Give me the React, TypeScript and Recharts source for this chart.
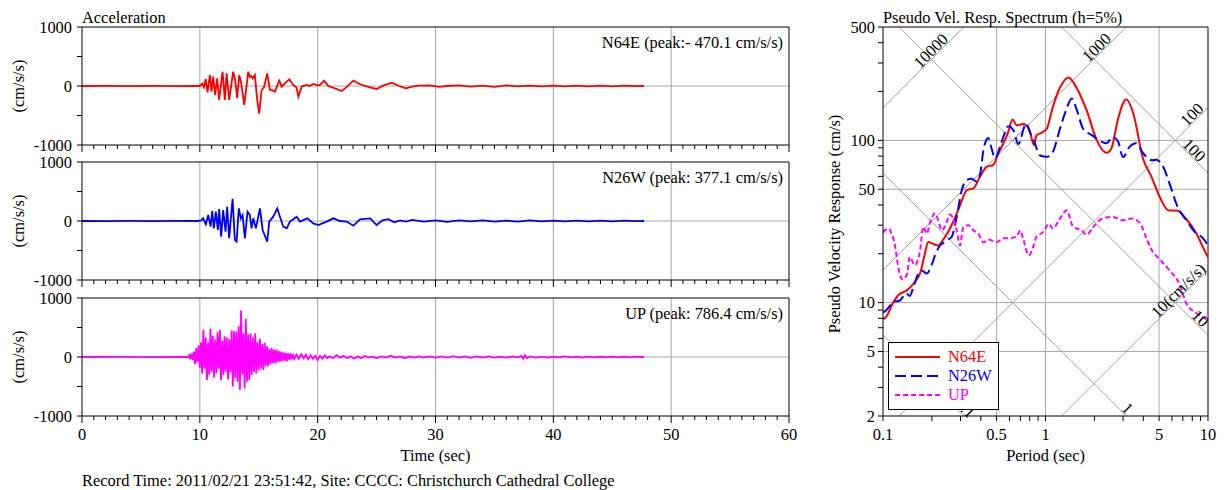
import { LineChart, Line, XAxis, YAxis, ReferenceLine, ReferenceDot } from "recharts";

const FONT = "'Liberation Serif', 'Times New Roman', serif";
const W = 1226;
const H = 490;

// accelerograms, [time (s), acceleration (cm/s/s)]
const n64eAcc: [number, number][] = [
  [0, 0], [2, 2], [4, -2], [6, 2], [8, -2], [9.6, 0], [10.0, 0], [10.2, 40], [10.35, -20],
  [10.5, 120], [10.65, -110], [10.85, 186], [10.99, -96], [11.13, 158], [11.3, -152],
  [11.47, 130], [11.64, -236], [11.93, 242], [12.12, -236], [12.27, 214], [12.49, -236],
  [12.83, 242], [13.0, 100], [13.17, -208], [13.34, 186], [13.5, 60], [13.77, -321],
  [14.11, 242], [14.25, 150], [14.39, 170], [14.5, 130], [14.67, 186], [14.87, -236],
  [15.04, -470], [15.24, -68], [15.45, -20], [15.72, 214], [15.95, -68], [16.15, -70],
  [16.37, -96], [16.74, 90], [16.94, -10], [17.22, 45], [17.59, 113], [17.93, 17],
  [18.2, -20], [18.36, -180], [18.64, -10], [19.07, 17], [19.3, 0], [19.63, 34], [20.0, 10],
  [20.2, 20], [20.54, 90], [20.9, 0], [21.47, -40], [22.04, -85], [22.5, -10], [23.03, 90],
  [23.6, 30], [24.2, -10], [25.0, -50], [25.6, 10], [26.3, 56], [26.9, 0], [27.5, -40],
  [28.0, -10], [28.6, 5], [29.5, 10], [30.3, -15], [31, 0], [32, 10], [33, -10], [34, 5],
  [35, -15], [36, 10], [37, -5], [38, 5], [39, -5], [40, 5], [41, -5], [42, 5], [43, -5],
  [44, 5], [45, -5], [46, 5], [47, -3], [47.7, 0],
];

const n26wAcc: [number, number][] = [
  [0, 0], [2, -2], [4, 2], [6, -2], [8, 2], [9.8, 0], [10.1, 10], [10.28, 45], [10.51, -56],
  [10.71, 101], [10.91, -96], [11.05, 169], [11.19, -124], [11.36, 158], [11.53, -152],
  [11.64, 203], [11.81, -265], [11.98, 186], [12.18, -180], [12.32, 242], [12.49, -293],
  [12.78, 377], [12.97, -321], [13.12, -349], [13.31, 214], [13.48, 45], [13.63, 101],
  [13.82, -293], [14.05, 158], [14.25, 101], [14.39, -124], [14.53, 45], [14.76, -124],
  [15.1, 214], [15.33, -152], [15.72, -350], [15.89, -10], [16.23, 73], [16.57, 214],
  [16.8, 73], [17.08, -96], [17.37, -124], [17.65, -10], [18.22, 73], [18.5, -10],
  [19.12, 45], [19.63, -40], [20.06, -68], [20.76, -10], [21.33, 45], [21.9, 0],
  [22.46, -10], [23.03, -79], [23.6, 28], [24.45, 45], [25.0, -68], [25.5, 10], [26, 30],
  [26.5, -20], [27, 10], [27.5, -10], [28, 20], [29, -10], [30, 10], [31, -15], [32, 10],
  [33, -5], [34, 10], [35, -10], [36, 5], [37, -10], [38, 10], [39, -5], [40, 5], [41, -5],
  [42, 5], [43, -5], [44, 5], [45, -5], [46, 5], [47, -3], [47.7, 0],
];

const upAcc: [number, number][] = [
  [0, 0], [3, 3], [6, -3], [8.9, 0], [9.0, 0], [9.1, 30], [9.2, -40], [9.3, 60], [9.4, -50],
  [9.5, 90], [9.6, -120], [9.7, 150], [9.8, -90], [9.9, 200], [10.0, -180], [10.1, 250],
  [10.2, -280], [10.3, 460], [10.4, -200], [10.5, 330], [10.6, -390], [10.7, 250],
  [10.8, -300], [10.9, 480], [11.0, -250], [11.1, 360], [11.2, -350], [11.3, 300],
  [11.4, -280], [11.5, 420], [11.6, -200], [11.7, 460], [11.8, -390], [11.9, 280],
  [12.0, -300], [12.1, 350], [12.2, -250], [12.3, 330], [12.4, -380], [12.5, 300],
  [12.6, -260], [12.7, 450], [12.8, -500], [12.9, 440], [13.0, -350], [13.1, 430],
  [13.2, -420], [13.3, 520], [13.4, -560], [13.5, 786], [13.6, -300], [13.7, 400],
  [13.8, -530], [13.9, 650], [14.0, -420], [14.1, 380], [14.2, -390], [14.3, 400],
  [14.4, -300], [14.5, 330], [14.6, -260], [14.7, 400], [14.8, -280], [14.9, 250],
  [15.0, -220], [15.1, 310], [15.2, -200], [15.3, 220], [15.4, -220], [15.5, 240],
  [15.6, -150], [15.7, 180], [15.8, -160], [15.9, 140], [16.0, -120], [16.1, 150],
  [16.2, -100], [16.3, 120], [16.4, -110], [16.5, 130], [16.6, -90], [16.7, 100],
  [16.8, -80], [16.9, 90], [17.0, -70], [17.1, 80], [17.2, -60], [17.3, 70], [17.4, -70],
  [17.5, 60], [17.6, -50], [17.7, 60], [17.8, -40], [17.9, 50], [18.0, -30], [18.2, 40],
  [18.4, -30], [18.6, 50], [18.8, -20], [19.0, 40], [19.2, -40], [19.4, 30], [19.6, -30],
  [19.8, 20], [20.0, -50], [20.2, 20], [20.4, -30], [20.6, 30], [20.8, -20], [21.0, 10],
  [21.3, -20], [21.6, 30], [21.9, -10], [22.2, 20], [22.5, -20], [22.8, 10], [23.1, -30],
  [23.4, 10], [23.7, -20], [24.0, 20], [24.3, -10], [24.6, 10], [25.0, -20], [25.4, 10],
  [25.8, -10], [26.2, 20], [26.6, -10], [27.0, 10], [27.4, -20], [27.8, 10], [28.2, -10],
  [28.6, 10], [29.0, -10], [29.5, 10], [30, -10], [30.5, 10], [31, -10], [31.5, 15],
  [32, -10], [32.5, 10], [33, -15], [33.5, 10], [34, -10], [34.5, 10], [35, -10], [35.5, 5],
  [36, -10], [36.5, 10], [37, -5], [37.3, 20], [37.45, -30], [37.6, 30], [37.75, -20],
  [38, 10], [38.5, -10], [39, 5], [39.5, -10], [40, 5], [40.5, -5], [41, 10], [41.5, -5],
  [42, 5], [42.5, -10], [43, 5], [43.5, -5], [44, 5], [44.5, -5], [45, 5], [45.5, -5],
  [46, 5], [46.5, -5], [47, 5], [47.7, 0],
];

const timeTicks = [0, 1, 2, 3, 4, 5, 6, 7, 8, 9, 10, 11, 12, 13, 14, 15, 16, 17, 18, 19, 20, 21, 22, 23, 24, 25, 26, 27, 28, 29, 30, 31, 32, 33, 34, 35, 36, 37, 38, 39, 40, 41, 42, 43, 44, 45, 46, 47, 48, 49, 50, 51, 52, 53, 54, 55, 56, 57, 58, 59, 60];
const timeLabels = [0, 10, 20, 30, 40, 50, 60];
const timeGrid = [10, 20, 30, 40, 50];
const accTicks = [-1000, -500, 0, 500, 1000];
const accLabels = [-1000, 0, 1000];

// pseudo velocity response spectra (h=5%), period (s) vs SV (cm/s)
const n64ePeriod = [0.1, 0.105, 0.113, 0.124, 0.14, 0.157, 0.17, 0.18, 0.19, 0.204, 0.219, 0.235, 0.252, 0.27, 0.298, 0.328, 0.36, 0.395, 0.434, 0.477, 0.512, 0.55, 0.59, 0.627, 0.664, 0.73, 0.79, 0.85, 0.88, 0.95, 1.02, 1.11, 1.22, 1.39, 1.5, 1.79, 2.07, 2.37, 2.54, 2.8, 3.14, 3.47, 3.98, 4.49, 5.1, 5.7, 6.5, 7.3, 8.5, 9.3, 10];
const n64eSV = [7.9, 8.2, 9.6, 11.1, 11.9, 13.4, 15.4, 19.6, 23.6, 23, 22.5, 24.5, 27.3, 31.4, 39.8, 49.3, 50.6, 59.6, 68.7, 70.6, 83, 95.7, 113, 134.6, 124, 126, 118.5, 93.5, 107.7, 111.6, 118.5, 161, 209, 244.5, 224, 153.7, 100, 83.8, 88.9, 136.5, 179, 146.6, 77.4, 59.6, 43.8, 37.1, 36.8, 33, 26.6, 22, 19];

const n26wPeriod = [0.1, 0.105, 0.116, 0.127, 0.139, 0.146, 0.154, 0.165, 0.173, 0.186, 0.199, 0.209, 0.224, 0.24, 0.252, 0.265, 0.284, 0.305, 0.328, 0.351, 0.378, 0.395, 0.415, 0.444, 0.466, 0.49, 0.525, 0.55, 0.59, 0.635, 0.68, 0.76, 0.8, 0.86, 0.92, 1.02, 1.11, 1.22, 1.35, 1.45, 1.56, 1.7, 1.93, 2.22, 2.37, 2.6, 2.8, 3.0, 3.3, 3.6, 4.0, 4.5, 4.8, 5.3, 5.8, 6.5, 7.35, 8.5, 9.3, 10];
const n26wSV = [8.7, 9.0, 10.1, 10.3, 11.4, 11.0, 12.5, 15.1, 15.8, 15.1, 17, 19.6, 22.5, 23.6, 24.5, 25.5, 33.7, 49.3, 56.9, 58, 55.7, 61, 87, 103.6, 89, 77.4, 91.5, 105, 122.4, 115.6, 94.8, 127.2, 113, 96, 81, 79.2, 84.9, 115.6, 157.4, 181.5, 153.7, 118.5, 107.7, 98, 96, 105, 98, 79, 91.5, 96, 83, 75.5, 76, 68.7, 54.2, 38.9, 32.2, 26.6, 25, 22.5];

const upPeriod = [0.1, 0.103, 0.108, 0.113, 0.119, 0.124, 0.132, 0.141, 0.146, 0.157, 0.169, 0.177, 0.186, 0.195, 0.209, 0.219, 0.23, 0.247, 0.258, 0.27, 0.284, 0.298, 0.312, 0.335, 0.36, 0.386, 0.415, 0.445, 0.5, 0.55, 0.6, 0.664, 0.7, 0.73, 0.79, 0.84, 0.88, 0.97, 1.05, 1.11, 1.21, 1.35, 1.48, 1.67, 1.79, 1.97, 2.24, 2.6, 2.97, 3.37, 3.81, 4.21, 4.44, 5.1, 5.8, 6.7, 7.35, 8.5, 9.8, 10];
const upSV = [27, 27.9, 28.6, 26.6, 22, 16.6, 13.9, 15.1, 19.1, 17, 21, 29.3, 26.6, 31.4, 35.4, 32, 27.9, 31.4, 34.9, 33, 27.9, 22.5, 29.3, 30, 27.9, 26.6, 23.5, 24.5, 23.6, 24.9, 25, 25.5, 27.9, 24.5, 19.6, 22, 25.5, 27.3, 30.6, 28.6, 32.2, 37.1, 29.3, 27.9, 26.2, 29.3, 33, 33.7, 32.2, 33, 30.9, 24.5, 21.7, 18.3, 15.8, 12.9, 9.9, 8.6, 7.8, 7.6];

const periodTicks = [0.1, 0.2, 0.3, 0.4, 0.5, 0.6, 0.7, 0.8, 0.9, 1, 2, 3, 4, 5, 6, 7, 8, 9, 10];
const periodLabels = [0.1, 0.5, 1, 5, 10];
const periodGrid = [0.5, 1, 5];
const svTicks = [2, 3, 4, 5, 6, 7, 8, 9, 10, 20, 30, 40, 50, 60, 70, 80, 90, 100, 200, 300, 400, 500];
const svLabels = [2, 5, 10, 50, 100, 500];
const svGrid = [5, 10, 50, 100];

// tripartite guide lines: constant acceleration (cm/s/s) and displacement (cm)
const accelLines = [10, 100, 1000, 10000];
const dispLines = [0.1, 1, 10, 100];
const accelLabels = [
  { sa: 10000, text: "10000", at: 0.21 },
  { sa: 1000, text: "1000", at: 2.2 },
  { sa: 100, text: "100", at: 8.5 },
  { sa: 10, text: "10(cm/s/s)", at: 7.0 },
];
const dispLabels = [
  { d: 100, text: "100", at: 7.7 },
  { d: 10, text: "10", at: 8.4 },
  { d: 1, text: "1", at: 3.0 },
  { d: 0.1, text: "0.1", at: 0.3 },
];

const TWO_PI = 2 * Math.PI;
const T_MIN = 0.1, T_MAX = 10, SV_MIN = 2, SV_MAX = 500;

function accelSegment(sa: number) {
  const k = sa / TWO_PI;
  const t1 = Math.max(T_MIN, SV_MIN / k);
  const t2 = Math.min(T_MAX, SV_MAX / k);
  return [{ x: t1, y: k * t1 }, { x: t2, y: k * t2 }];
}

function dispSegment(d: number) {
  const c = TWO_PI * d;
  const t1 = Math.max(T_MIN, c / SV_MAX);
  const t2 = Math.min(T_MAX, c / SV_MIN);
  return [{ x: t1, y: c / t1 }, { x: t2, y: c / t2 }];
}

const tickStyle = { fill: "#000", fontSize: 16.4, fontFamily: FONT };
const GRID = "#a8a8a8";

// bottom tick for the time axis: long tick every 10 s, short every second
function TimeTick(props: any) {
  const { x, y, payload, showTime } = props;
  const v = payload.value;
  const major = timeLabels.includes(v);
  return (
    <g>
      <line x1={x} x2={x} y1={y} y2={y + (major ? 7 : 4)} stroke="#000" strokeWidth={1} />
      {showTime && major ? (
        <text x={x} y={y + 24} textAnchor="middle" fill="#000" fontSize={16.4} fontFamily={FONT}>
          {v}
        </text>
      ) : null}
    </g>
  );
}

function AccPanel({ data, color, top, showTime }: { data: [number, number][]; color: string; top: number; showTime: boolean }) {
  const rows = data.map(([t, a]) => ({ t, a }));
  return (
    <div style={{ position: "absolute", left: 0, top: top - 27 }}>
      <LineChart width={800} height={180} data={rows} margin={{ top: 27, right: 11, bottom: 5, left: 22 }}>
        <XAxis
          type="number"
          dataKey="t"
          domain={[0, 60]}
          ticks={timeTicks}
          interval={0}
          allowDataOverflow
          height={30}
          tickSize={0}
          tickMargin={0}
          tickLine={false}
          axisLine={{ stroke: "#000" }}
          tick={<TimeTick showTime={showTime} />}
        />
        <YAxis
          type="number"
          domain={[-1000, 1000]}
          ticks={accTicks}
          interval={0}
          allowDataOverflow
          width={60}
          tickSize={5}
          tickMargin={5}
          axisLine={{ stroke: "#000" }}
          tickLine={{ stroke: "#000" }}
          tick={tickStyle}
          tickFormatter={(v) => (accLabels.includes(v) ? String(v) : "")}
        />
        {timeGrid.map((x) => (
          <ReferenceLine key={x} x={x} stroke={GRID} strokeWidth={1} />
        ))}
        <ReferenceLine y={0} stroke={GRID} strokeWidth={1} />
        <ReferenceLine x={60} stroke="#000" strokeWidth={1} />
        <ReferenceLine y={1000} stroke="#000" strokeWidth={1} />
        <Line
          type="linear"
          dataKey="a"
          stroke={color}
          strokeWidth={1.8}
          dot={false}
          isAnimationActive={false}
        />
      </LineChart>
    </div>
  );
}

const spec = (T: number[], sv: number[]) => T.map((t, i) => ({ T: t, sv: sv[i] }));

function DiagLabel({ cx, cy, text, rot }: { cx: number; cy: number; text: string; rot: number }) {
  return (
    <text
      x={cx}
      y={cy}
      dy={-1}
      textAnchor="middle"
      fontSize={16.4}
      fontFamily={FONT}
      fill="#000"
      transform={`rotate(${rot} ${cx} ${cy})`}
    >
      {text}
    </text>
  );
}

function Spectrum() {
  return (
    <div style={{ position: "absolute", left: 760, top: 0 }}>
      <LineChart width={466} height={490} margin={{ top: 27, right: 18, bottom: 44, left: 63 }}>
        <XAxis
          type="number"
          dataKey="T"
          scale="log"
          domain={[T_MIN, T_MAX]}
          ticks={periodTicks}
          interval={0}
          allowDataOverflow
          height={30}
          tickSize={5}
          tickMargin={7}
          axisLine={{ stroke: "#000" }}
          tickLine={{ stroke: "#000" }}
          tick={tickStyle}
          tickFormatter={(v) => (periodLabels.includes(v) ? String(v) : "")}
        />
        <YAxis
          type="number"
          scale="log"
          domain={[SV_MIN, SV_MAX]}
          ticks={svTicks}
          interval={0}
          allowDataOverflow
          width={60}
          tickSize={5}
          tickMargin={3}
          axisLine={{ stroke: "#000" }}
          tickLine={{ stroke: "#000" }}
          tick={tickStyle}
          tickFormatter={(v) => (svLabels.includes(v) ? String(v) : "")}
        />
        {periodGrid.map((x) => (
          <ReferenceLine key={"px" + x} x={x} stroke={GRID} strokeWidth={1} />
        ))}
        {svGrid.map((y) => (
          <ReferenceLine key={"sy" + y} y={y} stroke={GRID} strokeWidth={1} />
        ))}
        {accelLines.map((sa) => (
          <ReferenceLine key={"a" + sa} segment={accelSegment(sa)} ifOverflow="visible" stroke="#a0a0a0" strokeWidth={1} />
        ))}
        {dispLines.map((d) => (
          <ReferenceLine key={"d" + d} segment={dispSegment(d)} ifOverflow="visible" stroke="#a0a0a0" strokeWidth={1} />
        ))}
        {accelLabels.map((l) => (
          <ReferenceDot
            key={"al" + l.text}
            x={l.at}
            y={(l.sa / TWO_PI) * l.at}
            ifOverflow="visible"
            shape={(p: any) => <DiagLabel cx={p.cx} cy={p.cy} text={l.text} rot={-45} />}
          />
        ))}
        {dispLabels.map((l) => (
          <ReferenceDot
            key={"dl" + l.text}
            x={l.at}
            y={(TWO_PI * l.d) / l.at}
            ifOverflow="visible"
            shape={(p: any) => <DiagLabel cx={p.cx} cy={p.cy} text={l.text} rot={45} />}
          />
        ))}
        <ReferenceLine x={T_MAX} stroke="#000" strokeWidth={1} />
        <ReferenceLine y={SV_MAX} stroke="#000" strokeWidth={1} />
        <Line
          data={spec(n64ePeriod, n64eSV)}
          type="monotone"
          dataKey="sv"
          stroke="#ff0000"
          strokeWidth={2}
          dot={false}
          isAnimationActive={false}
        />
        <Line
          data={spec(n26wPeriod, n26wSV)}
          type="monotone"
          dataKey="sv"
          stroke="#0000ff"
          strokeWidth={2}
          strokeDasharray="11 5"
          dot={false}
          isAnimationActive={false}
        />
        <Line
          data={spec(upPeriod, upSV)}
          type="monotone"
          dataKey="sv"
          stroke="#ff00ff"
          strokeWidth={2}
          strokeDasharray="5 3"
          dot={false}
          isAnimationActive={false}
        />
      </LineChart>
    </div>
  );
}

const legendItems = [
  { name: "N64E", color: "#ff0000", dash: undefined },
  { name: "N26W", color: "#0000ff", dash: "11 5" },
  { name: "UP", color: "#ff00ff", dash: "5 3" },
];

function Overlay() {
  const panelTops = [27, 162, 298];
  const panelTitles = ["N64E (peak:- 470.1 cm/s/s)", "N26W (peak: 377.1 cm/s/s)", "UP (peak: 786.4 cm/s/s)"];
  return (
    <svg width={W} height={H} style={{ position: "absolute", left: 0, top: 0, pointerEvents: "none" }} fontFamily={FONT} fontSize={16.4}>
      <text x={82} y={23}>Acceleration</text>
      {panelTops.map((t, i) => (
        <g key={t}>
          <text x={783} y={t + 21} textAnchor="end">{panelTitles[i]}</text>
          <text
            x={18}
            y={t + 59}
            textAnchor="middle"
            dominantBaseline="central"
            transform={`rotate(-90 18 ${t + 59})`}
          >
            (cm/s/s)
          </text>
        </g>
      ))}
      <text x={435.5} y={461} textAnchor="middle">Time (sec)</text>
      <text x={82} y={486}>Record Time: 2011/02/21 23:51:42, Site: CCCC: Christchurch Cathedral College</text>
      <text x={883} y={23}>Pseudo Vel. Resp. Spectrum (h=5%)</text>
      <text x={834} y={224} textAnchor="middle" dominantBaseline="central" transform="rotate(-90 834 224)">
        Pseudo Velocity Response (cm/s)
      </text>
      <text x={1045.5} y={461} textAnchor="middle">Period (sec)</text>
      <rect x={888.5} y={342.5} width={110} height={67} fill="#fff" stroke="#000" strokeWidth={1} />
      {legendItems.map((it, i) => (
        <g key={it.name}>
          <line
            x1={895}
            x2={940}
            y1={357 + i * 19}
            y2={357 + i * 19}
            stroke={it.color}
            strokeWidth={2}
            strokeDasharray={it.dash}
          />
          <text x={948} y={362 + i * 19} fill={it.color}>{it.name}</text>
        </g>
      ))}
    </svg>
  );
}

export default function App() {
  return (
    <div style={{ position: "absolute", left: 0, top: 0, width: W, height: H, background: "#fff", overflow: "hidden" }}>
      <AccPanel data={n64eAcc} color="#ff0000" top={27} showTime={false} />
      <AccPanel data={n26wAcc} color="#0000ff" top={162} showTime={false} />
      <AccPanel data={upAcc} color="#ff00ff" top={298} showTime={true} />
      <Spectrum />
      <Overlay />
    </div>
  );
}
